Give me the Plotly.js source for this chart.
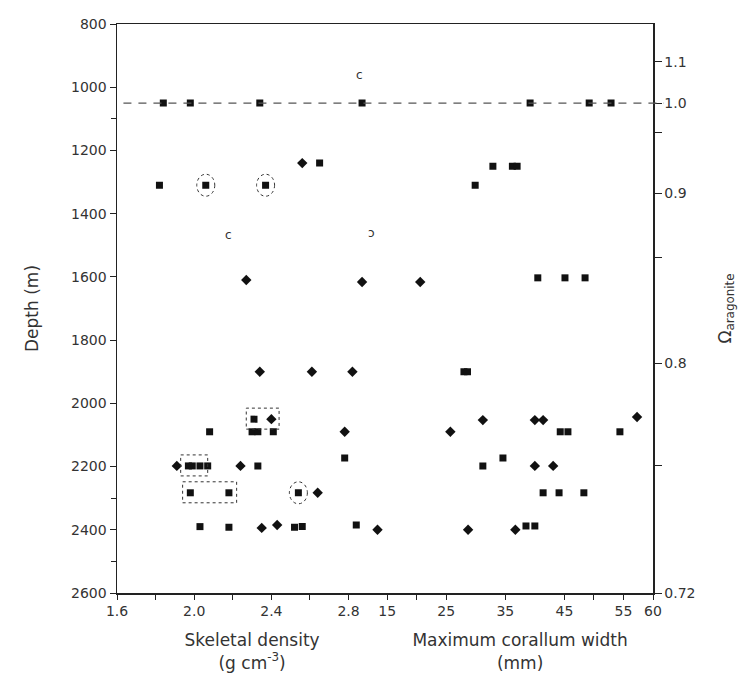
<!DOCTYPE html>
<html><head><meta charset="utf-8">
<script src="https://cdn.plot.ly/plotly-3.0.1.min.js"></script>
<style>html,body{margin:0;padding:0;background:#fff}</style>
</head><body><div id="chart" style="width:740px;height:684px"></div>
<script>
// ---- Skeletal density (g cm-3) vs depth (m) ----
const densSqX     = [1.84, 1.98, 2.34, 2.87, 2.65, 1.82, 2.06, 2.37, 2.31, 2.08, 2.30, 2.33, 2.41, 2.78, 1.97, 1.99, 2.03, 2.07, 2.33, 1.98, 2.18, 2.54, 2.03, 2.18, 2.52, 2.56, 2.84];
const densSqDepth = [1050, 1050, 1050, 1050, 1240, 1310, 1310, 1310, 2050, 2090, 2090, 2090, 2090, 2173, 2198, 2198, 2198, 2198, 2198, 2283, 2283, 2283, 2390, 2392, 2392, 2390, 2385];
const densDiX     = [2.56, 2.27, 2.87, 2.34, 2.61, 2.82, 2.40, 2.78, 1.91, 2.24, 2.64, 2.35, 2.43, 2.95];
const densDiDepth = [1240, 1610, 1616, 1900, 1900, 1900, 2050, 2090, 2198, 2198, 2283, 2394, 2385, 2400];

// ---- Maximum corallum width (mm) vs depth (m) ----
const widthSqX     = [39.2, 49.2, 52.9, 32.9, 36.2, 37.0, 29.9, 40.5, 45.1, 48.5, 28.0, 28.6, 44.3, 45.6, 54.4, 34.6, 31.2, 41.4, 44.1, 48.3, 38.5, 40.0];
const widthSqDepth = [1050, 1050, 1050, 1250, 1250, 1250, 1310, 1603, 1603, 1603, 1900, 1900, 2090, 2090, 2090, 2173, 2198, 2283, 2283, 2283, 2388, 2388];
const widthDiX     = [20.6, 31.2, 40.0, 41.4, 57.3, 25.7, 40.0, 43.1, 28.7, 36.7];
const widthDiDepth = [1616, 2053, 2053, 2053, 2043, 2090, 2198, 2198, 2400, 2400];

// ---- highlighted (circled / boxed) points ----
const circledX     = [2.06, 2.37, 2.54];
const circledDepth = [1310, 1310, 2283];
const boxedGroups  = [
  {x: [2.31, 2.40], depth: 2050},
  {x: [1.97, 2.03], depth: 2198},
  {x: [1.98, 2.18], depth: 2283}
];
// small letter marks
const letterText  = ['c', 'c', '\u0254'];
const letterX     = [2.856, 2.18, 2.92];
const letterDepth = [961, 1467, 1461];

// ---- axes ----
const densityTicks = [1.6, 2.0, 2.4, 2.8];
const densityMinor = [1.8, 2.2, 2.6, 3.0];
const widthTicks   = [15, 25, 35, 45, 55, 60];
const widthMinor   = [20, 50];
const depthTicks   = [800, 1000, 1200, 1400, 1600, 1800, 2000, 2200, 2400, 2600];
const depthMinor   = [1100, 2300, 2500];
const omegaLabels  = ['1.1', '1.0', '0.9', '0.8', '0.72'];
const omegaDepths  = [920, 1050, 1335, 1873, 2600];
const omegaMinor   = [1142, 1540, 2196];
const omegaOneDepth = 1050;

const ink = '#111';
const sq = {symbol: 'square', size: 7, color: ink};
const di = {symbol: 'diamond', size: 8, color: ink};

const traces = [
  {x: densSqX, y: densSqDepth, mode: 'markers', marker: sq, xaxis: 'x', yaxis: 'y', hoverinfo: 'x+y'},
  {x: densDiX, y: densDiDepth, mode: 'markers', marker: di, xaxis: 'x', yaxis: 'y', hoverinfo: 'x+y'},
  {x: widthSqX, y: widthSqDepth, mode: 'markers', marker: sq, xaxis: 'x2', yaxis: 'y', hoverinfo: 'x+y'},
  {x: widthDiX, y: widthDiDepth, mode: 'markers', marker: di, xaxis: 'x2', yaxis: 'y', hoverinfo: 'x+y'},
  {x: [], y: [], mode: 'markers', xaxis: 'x2', yaxis: 'y2', hoverinfo: 'skip'}
];

const shapes = [
  {type: 'line', xref: 'paper', yref: 'y', x0: 0.012, x1: 1.02, y0: omegaOneDepth, y1: omegaOneDepth,
   line: {color: '#555', width: 1.3, dash: '8px,7px'}}
];
circledX.forEach((cx, i) => {
  shapes.push({type: 'circle', xref: 'x', yref: 'y', xsizemode: 'pixel', ysizemode: 'pixel',
    xanchor: cx, yanchor: circledDepth[i], x0: -9, x1: 9, y0: -11, y1: 11,
    line: {color: '#333', width: 1, dash: 'dot'}});
});
boxedGroups.forEach(g => {
  shapes.push({type: 'rect', xref: 'x', yref: 'y', ysizemode: 'pixel', yanchor: g.depth,
    x0: Math.min(...g.x) - 0.04, x1: Math.max(...g.x) + 0.04, y0: -10, y1: 11,
    line: {color: '#333', width: 1, dash: 'dot'}});
});

const annotations = letterText.map((t, i) => ({
  text: t, x: letterX[i], y: letterDepth[i], xref: 'x', yref: 'y', showarrow: false,
  font: {size: 12, color: '#333'}
}));

const tickFont = {family: 'DejaVu Sans, Arial, sans-serif', size: 14, color: '#333'};
const titleFont = {family: 'DejaVu Sans, Arial, sans-serif', size: 17, color: '#333'};
const axLine = {showline: true, linecolor: '#222', linewidth: 1.5, showgrid: false, zeroline: false,
  ticks: 'outside', ticklen: 5, tickcolor: '#222', tickfont: tickFont};

const layout = {
  width: 740, height: 684,
  margin: {l: 117, r: 87, t: 24, b: 91},
  paper_bgcolor: '#fff', plot_bgcolor: '#fff', showlegend: false,
  font: tickFont,
  xaxis: Object.assign({}, axLine, {
    domain: [0, 0.504], range: [1.6, 3.0], anchor: 'y', mirror: true,
    tickmode: 'array', tickvals: densityTicks, tickformat: '.1f',
    minor: {tickmode: 'array', tickvals: densityMinor, ticks: 'outside', ticklen: 5, tickcolor: '#222'},
    title: {text: 'Skeletal density<br>(g cm<sup>-3</sup>)', font: titleFont, standoff: 16}
  }),
  xaxis2: Object.assign({}, axLine, {
    domain: [0.504, 1], range: [15, 60], anchor: 'y', mirror: true,
    tickmode: 'array', tickvals: widthTicks,
    minor: {tickmode: 'array', tickvals: widthMinor, ticks: 'outside', ticklen: 5, tickcolor: '#222'},
    title: {text: 'Maximum corallum width<br>(mm)', font: titleFont, standoff: 16}
  }),
  yaxis: Object.assign({}, axLine, {
    range: [2600, 800], anchor: 'x', ticklen: 6,
    tickmode: 'array', tickvals: depthTicks,
    minor: {tickmode: 'array', tickvals: depthMinor, ticks: 'outside', ticklen: 5, tickcolor: '#222'},
    title: {text: 'Depth (m)', font: titleFont, standoff: 28}
  }),
  yaxis2: Object.assign({}, axLine, {
    range: [2600, 800], overlaying: 'y', side: 'right', anchor: 'x2', ticklen: 7,
    tickmode: 'array', tickvals: omegaDepths, ticktext: omegaLabels,
    minor: {tickmode: 'array', tickvals: omegaMinor, ticks: 'outside', ticklen: 7, tickcolor: '#222'},
    title: {text: '\u03A9<sub>aragonite</sub>', font: titleFont, standoff: 24}
  }),
  shapes: shapes,
  annotations: annotations
};

Plotly.newPlot('chart', traces, layout, {displayModeBar: false, staticPlot: true});
</script>
</body></html>
